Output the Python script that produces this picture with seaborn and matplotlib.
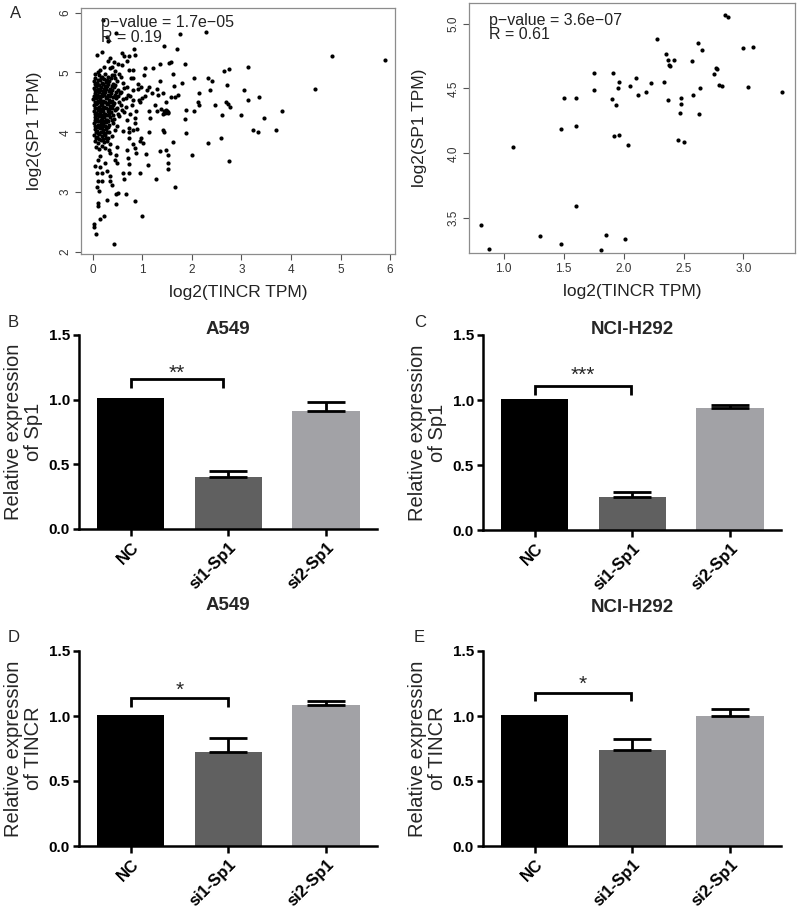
import matplotlib
matplotlib.use("Agg")
import matplotlib.pyplot as plt
import seaborn as sns
import pandas as pd
import numpy as np

# ---------------- data ----------------
# Panel A left: TCGA lung samples, (log2 TINCR TPM, log2 SP1 TPM)
scatter_left_points = [
    (5.90, 5.21), (4.83, 5.27), (4.48, 4.73), (3.81, 4.36), (3.70, 4.03), (3.46, 4.24),
    (3.35, 4.59), (3.33, 4.00), (3.24, 4.04), (3.13, 5.09), (3.13, 4.54), (3.05, 4.71),
    (2.99, 4.29), (2.74, 3.52), (2.74, 5.06), (2.65, 5.02), (2.70, 4.79), (2.73, 4.48),
    (2.76, 4.43), (2.69, 4.51), (2.60, 4.28), (2.58, 3.91), (2.46, 4.45), (2.29, 5.68),
    (2.33, 4.90), (2.41, 4.86), (2.36, 4.71), (2.33, 3.82), (2.05, 4.90), (2.04, 4.35),
    (2.12, 4.50), (2.15, 4.45), (2.14, 4.66), (2.00, 3.61), (1.86, 5.15), (1.86, 4.22),
    (1.89, 4.38), (1.88, 3.99), (1.80, 4.83), (1.70, 5.39), (1.75, 5.65), (1.71, 4.62),
    (1.65, 4.59), (1.58, 4.59), (1.61, 4.98), (1.58, 5.18), (1.63, 4.78), (1.61, 3.84),
    (1.65, 3.08), (1.54, 5.16), (1.51, 4.32), (1.47, 4.38), (1.44, 4.35), (1.41, 4.66),
    (1.43, 5.44), (1.42, 4.04), (1.44, 4.00), (1.48, 3.70), (1.51, 3.62), (1.51, 3.49),
    (1.52, 3.39), (1.36, 3.68), (1.36, 4.85), (1.35, 5.15), (1.37, 4.39), (1.48, 4.50),
    (1.31, 4.62), (1.29, 4.72), (1.28, 3.22), (1.22, 5.07), (1.14, 4.75), (1.14, 4.36),
    (1.16, 4.24), (1.14, 4.01), (1.12, 3.45), (1.07, 3.64), (1.03, 4.96), (1.05, 5.07),
    (1.00, 2.60), (1.02, 3.82), (0.98, 3.90), (1.00, 4.57), (0.97, 4.75), (0.95, 3.32),
    (0.91, 4.73), (0.93, 4.54), (0.86, 4.24), (0.86, 2.85), (0.86, 3.74), (0.88, 3.65),
    (0.83, 5.39), (0.86, 5.29), (0.82, 5.04), (0.80, 4.90), (0.82, 4.54), (0.80, 4.04),
    (0.73, 4.07), (0.73, 5.28), (0.69, 5.20), (0.73, 5.04), (0.68, 4.76), (0.66, 4.57),
    (0.69, 3.71), (0.71, 3.57), (0.73, 3.46), (0.73, 3.32), (0.67, 2.96), (0.63, 5.27),
    (0.59, 5.32), (0.58, 5.13), (0.56, 4.92), (0.56, 4.68), (0.59, 4.38), (0.61, 3.31),
    (0.63, 3.21), (0.50, 2.98), (0.46, 2.96), (0.46, 2.79), (0.42, 2.12), (0.48, 3.49),
    (0.44, 3.54), (0.49, 3.76), (0.42, 5.18), (0.39, 5.10), (0.35, 5.24), (0.42, 4.96),
    (0.46, 5.66), (0.30, 5.52), (0.29, 5.60), (0.18, 5.35), (0.20, 5.88), (0.08, 5.29),
    (0.10, 5.00), (0.23, 2.60), (0.15, 2.54), (0.07, 2.29), (0.03, 2.47), (0.03, 2.41),
    (0.10, 2.82), (0.10, 2.76), (0.29, 2.87), (0.12, 3.01), (0.08, 3.08), (0.10, 3.18),
    (0.18, 3.18), (0.35, 3.18), (0.39, 3.12), (0.34, 3.26), (0.29, 3.35), (0.18, 3.32),
    (0.08, 3.32), (0.05, 3.43), (0.15, 3.41), (0.25, 3.49), (0.10, 3.54), (0.15, 3.60),
    (0.35, 3.65), (0.46, 3.62),
    # dense cluster
    (0.05, 4.97), (0.12, 4.95), (0.18, 4.92), (0.25, 4.98), (0.30, 4.93), (0.38, 4.96),
    (0.45, 4.90), (0.52, 4.97), (0.03, 4.85), (0.09, 4.82), (0.15, 4.87), (0.20, 4.80),
    (0.27, 4.84), (0.33, 4.86), (0.40, 4.81), (0.48, 4.85), (0.60, 4.83), (0.02, 4.74),
    (0.07, 4.77), (0.11, 4.72), (0.17, 4.76), (0.22, 4.73), (0.28, 4.77), (0.35, 4.72),
    (0.42, 4.75), (0.50, 4.70), (0.62, 4.74), (0.04, 4.66), (0.08, 4.63), (0.13, 4.67),
    (0.19, 4.64), (0.24, 4.68), (0.30, 4.62), (0.36, 4.66), (0.44, 4.63), (0.55, 4.65),
    (0.70, 4.62), (0.01, 4.55), (0.06, 4.57), (0.10, 4.52), (0.15, 4.56), (0.20, 4.53),
    (0.26, 4.57), (0.32, 4.54), (0.39, 4.52), (0.46, 4.57), (0.53, 4.50), (0.60, 4.55),
    (0.03, 4.45), (0.07, 4.48), (0.12, 4.43), (0.17, 4.46), (0.22, 4.42), (0.28, 4.47),
    (0.34, 4.44), (0.41, 4.46), (0.48, 4.41), (0.57, 4.45), (0.66, 4.43), (0.02, 4.35),
    (0.06, 4.32), (0.10, 4.37), (0.15, 4.33), (0.20, 4.36), (0.25, 4.31), (0.31, 4.35),
    (0.37, 4.33), (0.44, 4.37), (0.50, 4.30), (0.62, 4.34), (0.04, 4.25), (0.09, 4.22),
    (0.13, 4.27), (0.18, 4.23), (0.23, 4.26), (0.29, 4.21), (0.35, 4.25), (0.42, 4.22),
    (0.52, 4.27), (0.02, 4.15), (0.07, 4.18), (0.11, 4.12), (0.16, 4.16), (0.21, 4.13),
    (0.27, 4.17), (0.33, 4.12), (0.40, 4.16), (0.48, 4.10), (0.04, 4.05), (0.09, 4.02),
    (0.14, 4.07), (0.20, 4.03), (0.26, 4.06), (0.32, 4.01), (0.45, 4.04), (0.60, 4.02),
    (0.72, 4.00), (0.03, 3.95), (0.08, 3.92), (0.13, 3.97), (0.19, 3.93), (0.24, 3.96),
    (0.30, 3.91), (0.38, 3.94), (0.05, 3.85), (0.10, 3.82), (0.16, 3.87), (0.22, 3.83),
    (0.28, 3.86), (0.35, 3.81), (0.06, 3.75), (0.12, 3.72), (0.18, 3.77), (0.25, 3.73),
    (0.33, 3.70), (0.15, 5.05), (0.22, 5.10), (0.35, 5.08), (0.45, 5.02), (0.30, 5.20),
    (0.50, 5.15), (0.75, 4.60), (0.78, 4.45), (0.82, 4.70), (0.88, 4.35), (0.92, 4.80),
    (0.95, 4.50), (0.77, 4.90), (0.85, 4.15), (0.90, 4.05), (0.96, 3.85), (0.72, 3.90),
    (0.80, 3.80), (0.68, 4.20), (0.75, 4.30), (1.05, 4.60), (1.10, 4.70), (1.20, 4.65),
    (1.25, 4.45), (1.30, 4.35), (1.42, 4.30), (1.46, 4.32), (1.50, 4.36), (1.52, 4.33),
    (0.045, 4.90), (0.10, 4.88), (0.16, 4.91), (0.23, 4.89), (0.29, 4.87), (0.36, 4.90),
    (0.05, 4.80), (0.12, 4.79), (0.18, 4.82), (0.24, 4.78), (0.31, 4.80), (0.38, 4.78),
    (0.45, 4.79), (0.04, 4.70), (0.09, 4.69), (0.15, 4.71), (0.20, 4.69), (0.26, 4.72),
    (0.32, 4.69), (0.39, 4.70), (0.47, 4.68), (0.03, 4.60), (0.08, 4.59), (0.13, 4.61),
    (0.18, 4.60), (0.23, 4.62), (0.28, 4.59), (0.34, 4.60), (0.41, 4.59), (0.50, 4.60),
    (0.04, 4.50), (0.09, 4.49), (0.14, 4.51), (0.19, 4.48), (0.24, 4.50), (0.30, 4.49),
    (0.36, 4.50), (0.43, 4.49), (0.05, 4.40), (0.10, 4.41), (0.15, 4.39), (0.20, 4.41),
    (0.26, 4.40), (0.32, 4.39), (0.38, 4.41), (0.46, 4.39), (0.04, 4.30), (0.08, 4.28),
    (0.13, 4.31), (0.18, 4.29), (0.23, 4.30), (0.28, 4.28), (0.33, 4.30), (0.40, 4.29),
    (0.05, 4.20), (0.10, 4.19), (0.16, 4.21), (0.21, 4.18), (0.26, 4.20), (0.31, 4.19),
    (0.38, 4.20), (0.05, 4.10), (0.10, 4.09), (0.14, 4.11), (0.19, 4.08), (0.24, 4.10),
    (0.30, 4.08), (0.06, 4.00), (0.11, 3.99), (0.17, 4.00), (0.23, 3.99), (0.28, 4.00),
    (0.07, 3.90), (0.12, 3.89), (0.20, 3.88), (0.26, 3.90),
]

# Panel A right: cell lines
scatter_right_tincr = [0.81, 0.88, 1.08, 1.30, 1.48, 1.48, 1.50, 1.60, 1.60, 1.60, 1.75, 1.75,
                       1.81, 1.85, 1.91, 1.90, 1.94, 1.95, 1.96, 1.92, 1.96, 2.01, 2.04, 2.05,
                       2.10, 2.12, 2.19, 2.23, 2.28, 2.35, 2.34, 2.37, 2.38, 2.39, 2.42, 2.37,
                       2.45, 2.48, 2.48, 2.47, 2.50, 2.57, 2.58, 2.62, 2.65, 2.64, 2.63, 2.75,
                       2.77, 2.78, 2.80, 2.82, 2.85, 2.87, 3.00, 3.04, 3.08, 3.32]
scatter_right_sp1 = [3.45, 3.26, 4.045, 3.36, 3.30, 4.19, 4.43, 4.43, 4.21, 3.59, 4.62, 4.49,
                     3.25, 3.37, 4.62, 4.42, 4.37, 4.50, 4.55, 4.13, 4.14, 3.34, 4.06, 4.52,
                     4.58, 4.45, 4.47, 4.54, 4.88, 4.77, 4.55, 4.72, 4.68, 4.67, 4.72, 4.41,
                     4.10, 4.43, 4.38, 4.31, 4.09, 4.71, 4.45, 4.85, 4.80, 4.50, 4.30, 4.61,
                     4.66, 4.65, 4.53, 4.52, 5.07, 5.05, 4.81, 4.51, 4.82, 4.47]

groups = ["NC", "si1-Sp1", "si2-Sp1"]
sp1_a549 = [1.01, 0.405, 0.915]
sp1_a549_err = [0.0, 0.04, 0.065]
sp1_h292 = [1.005, 0.252, 0.94]
sp1_h292_err = [0.0, 0.043, 0.022]
tincr_a549 = [1.005, 0.72, 1.085]
tincr_a549_err = [0.0, 0.11, 0.027]
tincr_h292 = [1.005, 0.735, 0.997]
tincr_h292_err = [0.0, 0.085, 0.055]
bar_colors = ["#000000", "#606060", "#a2a2a6"]

# ---------------- style ----------------
sns.set_style("ticks")
plt.rcParams["font.family"] = ["Liberation Sans", "DejaVu Sans"]

W, H = 800, 911
fig = plt.figure(figsize=(W / 100, H / 100), dpi=100)


def px_axes(l, t, r, b):
    return fig.add_axes([l / W, 1 - b / H, (r - l) / W, (b - t) / H])


def scatter_panel(ax, df, xlim, ylim, xticks, xtl, yticks, ytl, ptxt, rtxt, tx, ty1, ty2, ylab_x):
    sns.scatterplot(data=df, x="tincr", y="sp1", ax=ax, color="black", s=9,
                    linewidth=0, legend=False)
    ax.set_xlim(*xlim)
    ax.set_ylim(*ylim)
    for sp in ax.spines.values():
        sp.set_visible(True)
        sp.set_color("#8c8c8c")
        sp.set_linewidth(0.9)
    ax.set_xticks(xticks)
    ax.set_xticklabels(xtl)
    ax.set_yticks(yticks)
    ax.set_yticklabels(ytl, rotation=90, va="center")
    ax.tick_params(direction="out", length=4, width=0.8, colors="#555555",
                   labelsize=8.5, labelcolor="#333333", pad=3)
    ax.set_xlabel("log2(TINCR TPM)", fontsize=12.5, color="#222222", labelpad=7)
    ax.set_ylabel("log2(SP1 TPM)", fontsize=12.5, color="#222222")
    ax.yaxis.set_label_coords(ylab_x, 0.5)
    ax.text(tx, ty1, ptxt, transform=ax.transAxes, fontsize=11.5, color="#222222",
            ha="left", va="center")
    ax.text(tx, ty2, rtxt, transform=ax.transAxes, fontsize=11.5, color="#222222",
            ha="left", va="center")


def bar_panel(ax, vals, errs, ylabel, sig, br_x1, br_y, leg_y, star_y):
    df = pd.DataFrame({"group": groups, "value": vals})
    sns.barplot(data=df, x="group", y="value", hue="group", palette=bar_colors,
                ax=ax, width=0.69, errorbar=None, legend=False, saturation=1,
                edgecolor="none")
    pos = np.arange(len(groups))
    has_err = [i for i, e in enumerate(errs) if e > 0]
    ax.errorbar(pos[has_err], np.array(vals)[has_err],
                yerr=[np.zeros(len(has_err)), np.array(errs)[has_err]], fmt="none",
                ecolor="black", elinewidth=2.0, capsize=14, capthick=2.0)
    ax.set_xlim(-0.53, 2.52)
    ax.set_ylim(0, 1.5)
    sns.despine(ax=ax)
    for s in ("left", "bottom"):
        ax.spines[s].set_linewidth(1.8)
        ax.spines[s].set_color("black")
    ax.set_yticks([0, 0.5, 1.0, 1.5])
    ax.set_yticklabels(["0.0", "0.5", "1.0", "1.5"], fontsize=11, fontweight="bold")
    ax.set_xticks(pos)
    ax.set_xticklabels(groups, rotation=45, ha="right", rotation_mode="anchor",
                       fontsize=12, fontweight="bold")
    ax.tick_params(axis="y", direction="out", length=4.5, width=1.8, colors="black", pad=2)
    ax.tick_params(axis="x", direction="out", length=5, width=1.8, colors="black", pad=3)
    ax.set_xlabel("")
    ax.set_ylabel(ylabel, fontsize=14.5, linespacing=1.05)
    ax.yaxis.set_label_coords(-0.12, 0.5)
    ax.plot([0, 0, br_x1, br_x1], [leg_y, br_y, br_y, leg_y], color="black",
            lw=2.0, solid_capstyle="butt", solid_joinstyle="miter")
    ax.text(br_x1 / 2, star_y, sig, ha="center", va="center", fontsize=15)


# ---------------- panel A ----------------
df_left = pd.DataFrame(scatter_left_points, columns=["tincr", "sp1"])
df_right = pd.DataFrame({"tincr": scatter_right_tincr, "sp1": scatter_right_sp1})

axA1 = px_axes(81, 8, 395, 254)
scatter_panel(axA1, df_left, (-0.24, 6.1), (1.96, 6.08),
              [0, 1, 2, 3, 4, 5, 6], ["0", "1", "2", "3", "4", "5", "6"],
              [2, 3, 4, 5, 6], ["2", "3", "4", "5", "6"],
              "p\u2212value = 1.7e\u221205", "R = 0.19", 0.064, 0.940, 0.880, -0.125)

axA2 = px_axes(469, 3, 795, 253)
scatter_panel(axA2, df_right, (0.71, 3.43), (3.23, 5.16),
              [1.0, 1.5, 2.0, 2.5, 3.0], ["1.0", "1.5", "2.0", "2.5", "3.0"],
              [3.5, 4.0, 4.5, 5.0], ["3.5", "4.0", "4.5", "5.0"],
              "p\u2212value = 3.6e\u221207", "R = 0.61", 0.061, 0.930, 0.875, -0.13)

# ---------------- panels B-E ----------------
axB = px_axes(79, 335, 377, 529)
bar_panel(axB, sp1_a549, sp1_a549_err, "Relative expression\nof Sp1", "**",
          0.94, 1.158, 1.089, 1.20)
axC = px_axes(483, 335, 781, 530)
bar_panel(axC, sp1_h292, sp1_h292_err, "Relative expression\nof Sp1", "***",
          0.98, 1.11, 1.04, 1.19)
axD = px_axes(79, 651, 377, 846)
bar_panel(axD, tincr_a549, tincr_a549_err, "Relative expression\nof TINCR", "*",
          1.0, 1.14, 1.067, 1.20)
axE = px_axes(483, 651, 781, 846)
bar_panel(axE, tincr_h292, tincr_h292_err, "Relative expression\nof TINCR", "*",
          0.98, 1.178, 1.115, 1.24)

# titles
def ftext(x, y, s, **kw):
    fig.text(x / W, 1 - y / H, s, **kw)

ftext(228, 330, "A549", ha="center", va="center", fontsize=13.5, fontweight="bold")
ftext(632, 330, "NCI-H292", ha="center", va="center", fontsize=13.5, fontweight="bold")
ftext(228, 605, "A549", ha="center", va="center", fontsize=13.5, fontweight="bold")
ftext(632, 607, "NCI-H292", ha="center", va="center", fontsize=13.5, fontweight="bold")

# panel letters
for x, y, s in [(10, 13, "A"), (8, 323, "B"), (414, 323, "C"), (8, 638, "D"), (414, 638, "E")]:
    ftext(x, y, s, ha="left", va="center", fontsize=12)

fig.savefig("out.png", dpi=100)
